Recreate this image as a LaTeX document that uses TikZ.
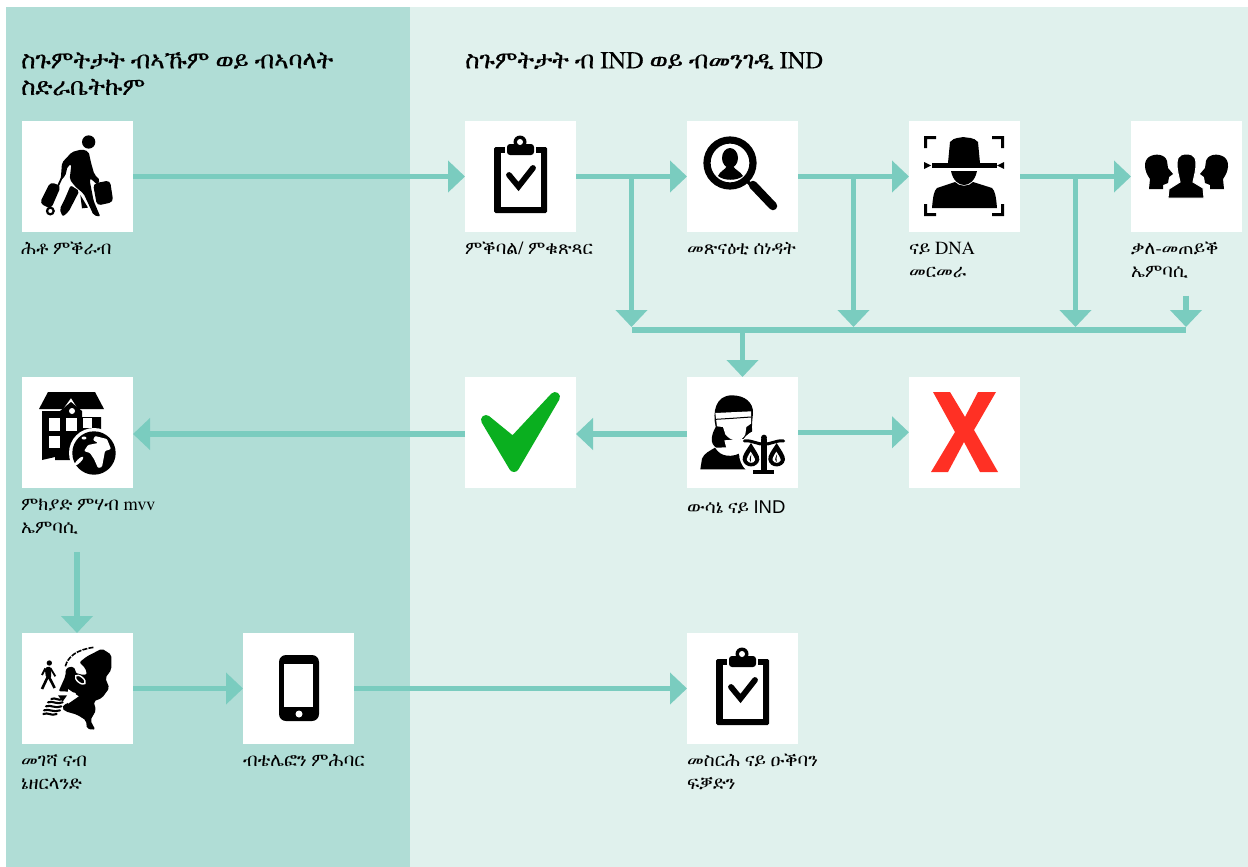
\documentclass[tikz,border=0pt]{standalone}
\usepackage{fontspec}
\usetikzlibrary{arrows.meta}
\setmainfont{FreeSerif}
\newfontfamily\headf[FakeBold=0.4]{FreeSerif}
\newfontfamily\sansf{Liberation Sans}
\definecolor{panelA}{HTML}{B0DDD6}
\definecolor{panelB}{HTML}{E0F1ED}
\definecolor{conn}{HTML}{7ACCBF}
\definecolor{okgreen}{HTML}{0AAF1F}
\definecolor{nored}{HTML}{FF3024}
\tikzset{
  sq/.style={fill=white,draw=none,minimum size=111pt,inner sep=0pt,outer sep=0pt},
  lab/.style={anchor=north west,inner sep=0pt,align=left,font=\fontsize{18.5}{23}\selectfont},
  head/.style={anchor=north west,inner sep=0pt,align=left,font=\headf\fontsize{24.4}{26.5}\selectfont},
  conline/.style={draw=conn,line width=5.3pt},
  arr/.style={conline,-{Triangle[length=17pt,width=31pt]}},
  clipboard/.pic={
    \fill[black,rounded corners=1.5pt] (29,26) rectangle (82,92);
    \fill[white] (36,32) rectangle (76,86);
    \fill[white] (40,24) rectangle (71,33);
    \fill[black,rounded corners=3pt] (42,23) rectangle (69,34);
    \fill[black] (55,21) circle (6.5);
    \fill[white] (55,21) circle (3);
    \draw[black,line width=5.8pt,line cap=round] (44,54) -- (53.5,65.5) -- (68,47);
  }
}
\begin{document}
\begin{tikzpicture}[x=1pt,y=-1pt]
\useasboundingbox (0,0) rectangle (1248,867);
\fill[white] (0,0) rectangle (1248,867);
\fill[panelA] (6,7) rectangle (410,867);
\fill[panelB] (410,7) rectangle (1248,867);

\node[head] (h1) at (21,52) {ስጉምትታት ብኣኹም ወይ ብኣባላት\\ስድራቤትኩም};
\node[head] (h2) at (465,52) {ስጉምትታት ብ IND ወይ ብመንገዲ IND};

\node[sq] (s1) at (77.5,176.5) {};
\node[sq] (s2) at (520.5,176.5) {};
\node[sq] (s3) at (742.5,176.5) {};
\node[sq] (s4) at (964.5,176.5) {};
\node[sq] (s5) at (1186.5,176.5) {};
\node[sq] (s6) at (77.5,432.5) {};
\node[sq] (s7) at (520.5,432.5) {};
\node[sq] (s8) at (742.5,432.5) {};
\node[sq] (s9) at (964.5,432.5) {};
\node[sq] (s10) at (77.5,688.5) {};
\node[sq] (s11) at (298.5,688.5) {};
\node[sq] (s12) at (742.5,688.5) {};

\node[lab] (l1) at (21,242) {ሕቶ ምቕራብ};
\node[lab] (l2) at (465,242) {ምቕባል/ ምቁጽጻር};
\node[lab] (l3) at (687,242) {መጽናዕቲ ሰነዳት};
\node[lab] (l4) at (909,242) {ናይ DNA\\መርመራ};
\node[lab] (l5) at (1131,242) {ቃለ-መጠይቕ\\ኤምባሲ};
\node[lab] (l6) at (21,499) {ምክያድ ምሃብ mvv\\ኤምባሲ};
\node[lab] (l8) at (687,501) {ውሳኔ ናይ {\sansf IND}};
\node[lab] (l10) at (21,754) {መገሻ ናብ\\ኔዘርላንድ};
\node[lab] (l11) at (243,754) {ብቴሌፎን ምሕባር};
\node[lab] (l12) at (687,754) {መስርሕ ናይ ዑቕባን\\ፍቓድን};

% connectors
\coordinate (b1) at (631.5,176);
\coordinate (b2) at (853.5,176);
\coordinate (b3) at (1075.5,176);
\coordinate (barL) at (631.5,330);
\coordinate (barR) at (1186,330);
\coordinate (t1) at (631.5,327);
\coordinate (t2) at (853.5,327);
\coordinate (t3) at (1075.5,327);
\coordinate (t4) at (1186,327);
\coordinate (f4) at (1186,295.5);
\coordinate (r2) at (0,434);
\coordinate (r2b) at (0,432.3);
\coordinate (mvv) at (77,552);
\draw[arr] (s1.east) -- (s2.west);
\draw[arr] (s2.east) -- (s3.west);
\draw[arr] (s3.east) -- (s4.west);
\draw[arr] (s4.east) -- (s5.west);
\draw[arr] (b1) -- (t1);
\draw[arr] (b2) -- (t2);
\draw[arr] (b3) -- (t3);
\draw[arr] (f4) -- (t4);
\draw[conline] (barL) -- (barR);
\draw[arr] (s8.north |- barL) -- (s8.north);
\draw[arr] (s8.west |- r2) -- (s7.east |- r2);
\draw[arr] (s7.west |- r2) -- (s6.east |- r2);
\draw[arr] (s8.east |- r2b) -- (s9.west |- r2b);
\draw[arr] (mvv) -- (mvv |- s10.north);
\draw[arr] (s10.east) -- (s11.west);
\draw[arr] (s11.east) -- (s12.west);

% traveller
\begin{scope}[shift={(22,121)},scale=1/3]
  \fill (200,63) circle (20);
  \fill[rounded corners=2pt] (116,178) -- (120,125) -- (150,93) -- (180,85) -- (200,92) -- (207,125) -- (217,160) -- (235,178) -- (225,190) -- (205,172) -- (203,178) -- (215,240) -- (235,287) -- (215,283) -- (185,218) -- (160,197) -- (143,175) -- (148,130) -- (137,135) -- (130,165) -- cycle;
  \fill[rounded corners=2pt] (146,193) -- (172,210) -- (140,272) -- (122,287) -- (113,265) -- (128,235) -- cycle;
  \fill (175,222) -- (198,260) -- (180,262) -- cycle;
  \fill[rounded corners=4pt] (213,188) -- (264,178) -- (274,243) -- (225,254) -- cycle;
  \fill[rounded corners=4pt] (85,183) -- (117,195) -- (87,264) -- (53,247) -- cycle;
  \draw[line width=1.8pt] (108,195) -- (124,160);
  \draw[line width=2.2pt,fill=white] (85,270) circle (10);
\end{scope}

% clipboards
\pic at (465,121) {clipboard};
\pic at (687,633) {clipboard};

% magnifier
\begin{scope}[shift={(687,121)}]
  \draw[line width=7.2pt] (43,42) circle (23);
  \draw[line width=3.5pt] (60,60) -- (67,67);
  \draw[line width=8.5pt,line cap=round] (66,64) -- (86,85);
  \fill (43,37) ellipse (8 and 10);
  \fill (31,55) .. controls (33,50) and (38,49) .. (40,45) -- (46,45) .. controls (48,49) and (53,50) .. (56,55) .. controls (50,60) and (37,60) .. (31,55) -- cycle;
\end{scope}

% face scan
\begin{scope}[shift={(909,121)}]
  \fill (15,15) -- (27,15) -- (27,18) -- (18,18) -- (18,27) -- (15,27) -- cycle;
  \fill (95,15) -- (83,15) -- (83,18) -- (92,18) -- (92,27) -- (95,27) -- cycle;
  \fill (15,95) -- (27,95) -- (27,92) -- (18,92) -- (18,83) -- (15,83) -- cycle;
  \fill (95,95) -- (83,95) -- (83,92) -- (92,92) -- (92,83) -- (95,83) -- cycle;
  \fill (39,42) -- (41,21) .. controls (45,16) and (52,17) .. (54,16) .. controls (58,17) and (65,16) .. (69,21) -- (71,42) -- cycle;
  \fill (23,42) rectangle (88,47);
  \fill (15,41) -- (22,44.5) -- (15,48) -- cycle;
  \fill (95,41) -- (88,44.5) -- (95,48) -- cycle;
  \fill (42,50) -- (68,50) .. controls (66,60) and (60,64) .. (55,64) .. controls (50,64) and (44,60) .. (42,50) -- cycle;
  \fill (23,87) .. controls (24,75) and (25,70) .. (28,67) -- (46,61) .. controls (50,66) and (60,66) .. (64,61) -- (83,67) .. controls (86,70) and (87,75) .. (88,87) -- cycle;
\end{scope}

% three heads
\begin{scope}[shift={(1131,121)}]
  \foreach \m/\o in {1/0,-1/111}{
    \begin{scope}[xshift=\o pt,xscale=\m]
    \fill (18,68) -- (19,58) .. controls (13,50) and (12,40) .. (18,36) .. controls (24,32) and (34,33) .. (36,40) -- (37,47) -- (42,53) -- (38,56) -- (37,62) -- (32,64) -- (32,68) -- cycle;
    \end{scope}
  }
  \fill[draw=white,line width=1pt] (37,77) -- (38,68) -- (49,61) -- (47,52) .. controls (44,36) and (48,33) .. (55.5,33) .. controls (63,33) and (67,36) .. (64,52) -- (62,61) -- (72,67) -- (73,77) -- cycle;
\end{scope}

% house and globe
\begin{scope}[shift={(22,377)}]
  \fill (26,15) -- (73,15) -- (82,32) -- (56,32) -- (49,21) -- (41,32) -- (17,32) -- cycle;
  \fill (20,34) -- (38,34) -- (49,25) -- (60,34) -- (60,40) -- (79,40) -- (79,60) -- (50,83) -- (33,83) -- (33,80) -- (20,83) -- cycle;
  \fill[white] (27,41) rectangle (38,54);
  \fill[white] (44,41) rectangle (55,54);
  \fill[white] (27,59) rectangle (38,71);
  \fill[white] (61,41) rectangle (70,51);
  \fill[white] (50,34) circle (3);
  \fill[white] (72,76) circle (25);
  \fill (72,76) circle (21.7);
  \fill[white,rounded corners=1pt] (73,59) -- (85,62) -- (89,72) -- (83,74) -- (80,90) -- (76,91) -- (72,82) -- (68,76) -- (62,74) -- (66,68) -- (76,66) -- (71,63) -- cycle;
  \fill[white,rotate around={45:(57,84)}] (57,84) ellipse (6 and 1.8);
  \fill[white] (62,61) ellipse (2.5 and 1.5);
\end{scope}

% check mark
\begin{scope}[shift={(465,377)}]
  \filldraw[okgreen,line width=10pt,line join=round] (21,43) -- (48,65) -- (90,20) -- (49,90) -- cycle;
\end{scope}

% judge
\begin{scope}[shift={(687,377)},scale=1/3]
  \fill (88,212) .. controls (68,200) and (72,175) .. (86,150) .. controls (76,105) and (85,55) .. (135,55) .. controls (172,55) and (200,75) .. (198,110) .. controls (195,135) and (192,165) .. (200,182) .. controls (192,198) and (170,205) .. (150,210) -- cycle;
  \fill[white] (85,108) -- (192,103) -- (192,140) -- (178,150) -- (175,172) .. controls (165,195) and (135,198) .. (115,172) -- (108,150) -- (90,148) -- cycle;
  \draw[line width=1pt] (86,127) -- (135,124) -- (192,120);
  \fill[white] (112,190) -- (172,186) -- (176,230) -- (125,240) -- cycle;
  \fill (40,277) -- (45,245) .. controls (52,228) and (68,222) .. (84,212) .. controls (100,240) and (135,245) .. (172,222) -- (180,277) -- cycle;
  \fill[white] (228,228) circle (72);
  \fill (231,182) circle (9);
  \fill (222,185) rectangle (240,282);
  \fill (198,278) rectangle (262,290);
  \draw[line width=3pt,line cap=round] (172,192) .. controls (195,188) and (215,205) .. (231,200) .. controls (247,205) and (267,188) .. (290,192);
  \foreach \dx in {0,77}{
    \fill (192+\dx,198) .. controls (178+\dx,220) and (165+\dx,235) .. (167+\dx,248) .. controls (172+\dx,275) and (212+\dx,275) .. (217+\dx,248) .. controls (218+\dx,235) and (205+\dx,220) .. (192+\dx,198) -- cycle;
    \fill[white] (191+\dx,224) .. controls (184+\dx,235) and (178+\dx,245) .. (180+\dx,250) .. controls (185+\dx,260) and (200+\dx,260) .. (204+\dx,250) .. controls (205+\dx,245) and (198+\dx,235) .. (191+\dx,224) -- cycle;
    \fill (193+\dx,232) .. controls (186+\dx,245) and (186+\dx,252) .. (192+\dx,256) .. controls (190+\dx,248) and (192+\dx,242) .. (193+\dx,232) -- cycle;
  }
\end{scope}

% cross
\begin{scope}[shift={(909,377)}]
  \fill[nored] (24,15) -- (41,15) -- (56,40) -- (69,15) -- (87,15) -- (65,53) -- (89,95) -- (71,95) -- (55,65) -- (39,95) -- (22,95) -- (46,55) -- cycle;
\end{scope}

% Netherlands map
\begin{scope}[shift={(22,633)},scale=1/3]
  \fill[rounded corners=2pt] (172,88) -- (195,70) -- (240,47) -- (268,65) -- (268,110) -- (250,135) -- (262,165) -- (240,195) -- (215,205) -- (222,232) -- (205,262) -- (220,290) -- (195,288) -- (192,262) -- (165,245) -- (130,235) -- (120,225) -- (125,215) -- (140,210) -- (165,180) -- (130,175) -- (110,175) -- (130,130) -- (132,105) -- (155,100) -- (165,125) -- (195,125) -- (190,105) -- cycle;
  \fill[rotate around={-40:(175,140)}] (175,140) ellipse (23 and 14);
  \draw[white,line width=1.4pt,rotate around={-40:(175,140)}] (175,140) ellipse (18 and 9);
  \fill[white] (115,180) -- (138,180) -- (138,168) -- (170,190) -- (138,212) -- (138,198) -- (122,198) -- cycle;
  \fill (108,187) -- (135,187) -- (122,206) -- cycle;
  \draw[line width=1.6pt,dash pattern=on 5pt off 1.2pt] (130,100) .. controls (138,70) and (165,50) .. (215,43);
  \fill (82,90) circle (8);
  \fill[rounded corners=2pt] (68,104) -- (86,100) -- (88,135) -- (72,135) -- cycle;
  \draw[line width=2.6pt] (78,130) -- (60,168) (80,130) -- (98,165);
  \draw[line width=1.8pt] (70,106) -- (60,126) (85,105) -- (100,130);
  \draw[line width=2.1pt,line cap=round] (88,198) .. controls (100,192) and (108,205) .. (122,198);
  \draw[line width=2.1pt,line cap=round] (78,208) .. controls (92,202) and (104,216) .. (122,208);
  \draw[line width=2.1pt,line cap=round] (72,220) .. controls (86,214) and (100,228) .. (118,220);
  \draw[line width=2.1pt,line cap=round] (66,232) .. controls (80,226) and (96,240) .. (114,232);
  \draw[line width=2.1pt,line cap=round] (64,243) .. controls (78,237) and (88,250) .. (104,243);
\end{scope}

% phone
\begin{scope}[shift={(243,633)}]
  \fill[rounded corners=7pt] (36,22) rectangle (76,88);
  \fill[white] (41,31) rectangle (70,74);
  \fill[white] (56,81) circle (3.5);
\end{scope}
\end{tikzpicture}
\end{document}
